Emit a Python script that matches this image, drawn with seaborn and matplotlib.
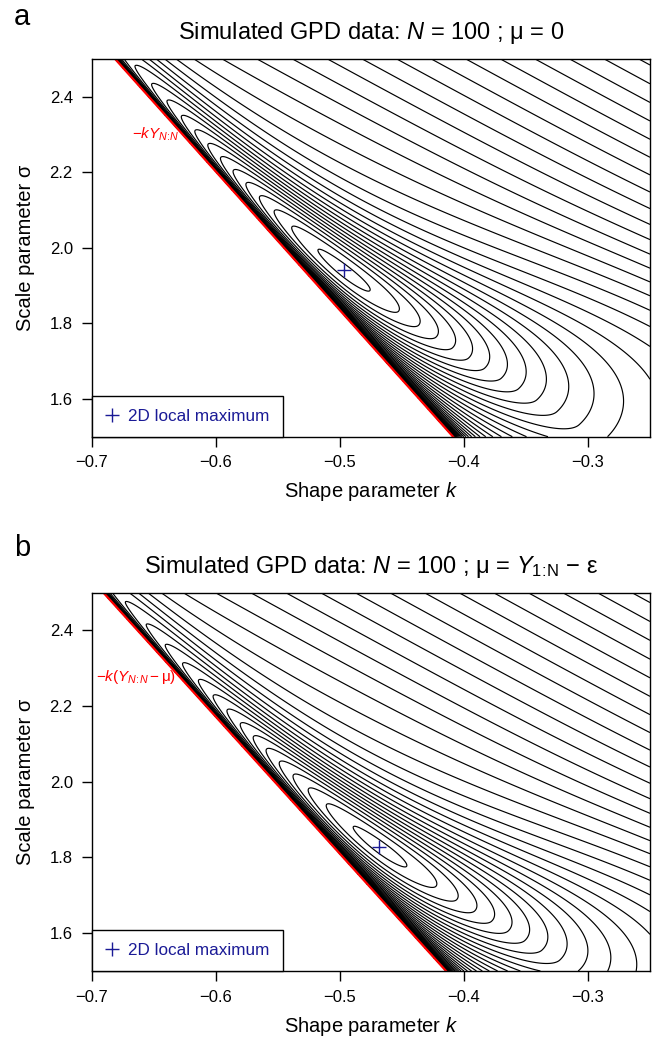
import numpy as np
import matplotlib
matplotlib.use("Agg")
import matplotlib.pyplot as plt
from matplotlib.lines import Line2D
import seaborn as sns

# values
K_LIM = (-0.7, -0.25)
S_LIM = (1.5, 2.5)
X_TICKS = [-0.7, -0.6, -0.5, -0.4, -0.3]
Y_TICKS = [1.6, 1.8, 2.0, 2.2, 2.4]

# panel a : mu = 0
K_HAT_A, S_HAT_A = -0.497, 1.940      # 2D local maximum
Y_MAX_A = 3.67                        # boundary sigma = -k * Y_NN
AXIS_DEG_A = 38.7                     # tilt of the inner ellipses on screen

# panel b : mu = Y_1:N - eps
K_HAT_B, S_HAT_B = -0.468, 1.828
Y_MAX_B = 3.62
AXIS_DEG_B = 37.0

# shape of the log-likelihood surface, in screen pixels
SX, SY = 1241.0, 378.0               # px per unit of k and of sigma
D_MIN = 10.0                         # ridge distance from boundary far up-left
B_NEAR = 18.0                        # depth of the ridge
L0 = 240.0                           # ridge length scale
V0_UP, V0_LOW = 44.0, 50.0           # ridge half width
T_WIDEN = 300.0                      # ridge widens down-right
FAR_DEG, FAR_START, FAR_GRAD, FAR_SOFT = 28.8, 105.0, 0.06, 20.0
A_BAR = 6.0
LEVEL_OFFSET = 1.0 / 3.0
N_LEVELS = 60

BLUE = "#1a1a96"


def loglik_surface(k, s, kh, sh, ymax, deg):
    """Relative log-likelihood: 0 at the local maximum, -inf on sigma=-k*Y"""
    beta = np.arctan(ymax * SY / SX)
    p = (k - kh) * SX
    q = (s - sh) * SY
    nb = np.sqrt(1 + (ymax * SY / SX) ** 2)
    db0 = (sh + kh * ymax) * SY / nb
    db = (s + k * ymax) * SY / nb
    db = np.where(db > 0, db, np.nan)
    ell = p * np.cos(beta) - q * np.sin(beta)

    # ridge line: leaves the boundary down-right, hugs it up-left
    slope = np.tan(beta - np.deg2rad(deg))
    w = slope * ell / (db0 - D_MIN)
    ridge = D_MIN + (db0 - D_MIN) * np.logaddexp(0, 2 * np.log(2) * w) / np.log(2)
    delta = db - ridge

    xd = np.where(delta > 0, delta / (V0_UP * np.exp(ell / T_WIDEN)),
                  delta / V0_LOW)
    r2 = xd ** 2 + (ell / L0) ** 2
    near = B_NEAR * (1 - (1 + r2 / 2) ** -2)

    phi = np.deg2rad(FAR_DEG)
    vfar = p * np.sin(phi) + q * np.cos(phi)
    far = FAR_GRAD * FAR_SOFT * np.logaddexp(0, (vfar - FAR_START) / FAR_SOFT)

    x = np.clip(db / ridge, None, 1)
    bar = A_BAR * (x - 1 - np.log(x))
    return -(near + far + bar)


def draw_panel(ax, kh, sh, ymax, deg, label, lab_xy):
    kk = np.linspace(K_LIM[0], K_LIM[1], 1300)
    ss = np.linspace(S_LIM[0], S_LIM[1], 1100)
    K, S = np.meshgrid(kk, ss)
    Z = loglik_surface(K, S, kh, sh, ymax, deg)
    levels = -(LEVEL_OFFSET + np.arange(N_LEVELS))[::-1]
    ax.contour(K, S, Z, levels=levels, colors="black",
               linewidths=0.85, linestyles="solid")

    # boundary of the parameter space
    k_line = np.array([K_LIM[0], K_LIM[1]])
    sns.lineplot(x=k_line, y=-k_line * ymax, color="red", lw=1.6, ax=ax)
    ax.text(lab_xy[0], lab_xy[1], label, color="red", fontsize=11,
            ha="center", va="center")

    sns.scatterplot(x=[kh], y=[sh], marker="+", s=90, color=BLUE,
                    linewidth=1.0, ax=ax, zorder=5)

    h = Line2D([], [], ls="none", marker="+", ms=10, mew=1.0, color=BLUE)
    leg = ax.legend([h], ["2D local maximum"], loc="lower left",
                    borderaxespad=0, fancybox=False, framealpha=1,
                    edgecolor="black", fontsize=12.3, handlelength=0.9,
                    handletextpad=0.5, borderpad=0.75)
    leg.get_texts()[0].set_color(BLUE)
    leg.get_frame().set_linewidth(1.0)

    ax.set_xlim(K_LIM)
    ax.set_ylim(S_LIM)
    ax.set_xticks(X_TICKS)
    ax.set_yticks(Y_TICKS)
    ax.set_yticklabels([f"{y:.1f}" for y in Y_TICKS])
    ax.tick_params(direction="out", length=7, width=1.0, labelsize=12,
                   color="black", labelcolor="black", pad=6.5)
    for sp in ax.spines.values():
        sp.set_visible(True)
        sp.set_color("black")
        sp.set_linewidth(1.0)
    ax.set_xlabel("Shape parameter $k$", fontsize=14.5)
    ax.set_ylabel("Scale parameter σ", fontsize=14.5)
    ax.xaxis.set_label_coords(0.5, -0.1455)
    ax.xaxis.label.set_va("center")
    ax.yaxis.set_label_coords(-0.119, 0.5)
    ax.yaxis.label.set_va("center")


sns.set_style("ticks")
plt.rcParams["font.family"] = ["Liberation Sans", "DejaVu Sans"]
plt.rcParams["mathtext.fontset"] = "custom"
plt.rcParams["mathtext.rm"] = "Liberation Sans"
plt.rcParams["mathtext.it"] = "Liberation Sans:italic"
plt.rcParams["text.color"] = "black"
plt.rcParams["axes.labelcolor"] = "black"

fig = plt.figure(figsize=(6.6, 10.4), dpi=100)
ax_a = fig.add_axes([91.6 / 660, 1 - 436.7 / 1040, 558.4 / 660, 377.9 / 1040])
ax_b = fig.add_axes([91.6 / 660, 1 - 971.0 / 1040, 558.4 / 660, 378.5 / 1040])

draw_panel(ax_a, K_HAT_A, S_HAT_A, Y_MAX_A, AXIS_DEG_A,
           r"$-kY_{N\!:\!N}$", (-0.648, 2.300))
draw_panel(ax_b, K_HAT_B, S_HAT_B, Y_MAX_B, AXIS_DEG_B,
           r"$-k(Y_{N\!:\!N}-\mathrm{μ})$", (-0.664, 2.277))

fig.text(371 / 660, 1 - 33 / 1040, r"Simulated GPD data: $N$ = 100 ; μ = 0",
         ha="center", va="center", fontsize=17)
fig.text(371 / 660, 1 - 566.5 / 1040,
         r"Simulated GPD data: $N$ = 100 ; μ = $Y_{\mathrm{1}\!:\!\mathrm{N}}$ − ε",
         ha="center", va="center", fontsize=17)
fig.text(22 / 660, 1 - 17 / 1040, "a", fontsize=21, ha="center", va="center")
fig.text(22 / 660, 1 - 548 / 1040, "b", fontsize=21, ha="center", va="center")

fig.savefig("out.png", dpi=100)
